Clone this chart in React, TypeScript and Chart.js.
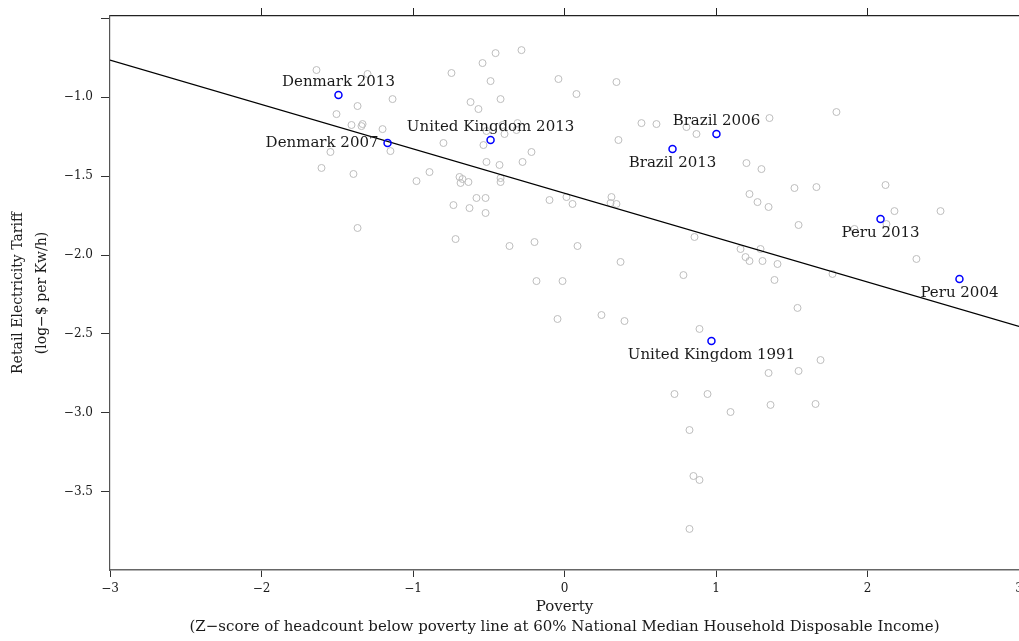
import React, { useEffect, useRef } from "react";
import { Chart, registerables } from "chart.js";

Chart.register(...registerables);

// ---- data ----
const grayX: number[] = [
  -1.637, -1.3, -1.135, -1.366, -1.505, -1.406, -1.34, -1.333, -1.201, -1.545,
  -1.149, -1.604, -1.393, -1.366, -0.455, -0.284, -0.541, -0.746, -0.488, -0.04,
  0.343, -0.62, -0.422, -0.568, 0.079, -0.409, -0.31, -0.396, -0.317, -0.515,
  -0.799, -0.535, -0.218, -0.515, -0.429, -0.277, -0.891, -0.977, -0.693, -0.673,
  -0.686, -0.634, -0.422, -0.422, 0.356, 0.508, 0.607, -0.581, -0.521, -0.099,
  0.013, 0.31, 0.805, 1.353, 1.795, 0.871, 1.201, 1.3, 1.518, 1.663,
  2.119, 1.221, 1.274, 1.347, 1.545, 2.178, 2.482, 2.125, 1.914, 0.858,
  1.162, 1.294, 1.195, 1.221, 1.307, 1.406, 2.323, 0.053, 0.304, 0.343,
  0.086, 0.37, 0.785, 1.386, 1.769, -0.013, 1.538, 0.244, 0.396, -0.046,
  0.891, 1.69, 1.347, 1.545, 0.726, 0.944, 1.096, 1.36, 1.657, 0.825,
  0.851, 0.891, 0.825, -0.733, -0.627, -0.521, -0.719, -0.363, -0.198, -0.185,
];
const grayY: number[] = [
  -0.829, -0.854, -1.013, -1.057, -1.108, -1.177, -1.184, -1.171, -1.203, -1.348,
  -1.342, -1.449, -1.487, -1.829, -0.722, -0.703, -0.785, -0.848, -0.899, -0.886,
  -0.905, -1.032, -1.013, -1.076, -0.981, -1.177, -1.165, -1.234, -1.209, -1.215,
  -1.291, -1.304, -1.348, -1.411, -1.43, -1.411, -1.475, -1.532, -1.506, -1.519,
  -1.544, -1.538, -1.513, -1.538, -1.272, -1.165, -1.171, -1.639, -1.639, -1.652,
  -1.633, -1.633, -1.19, -1.133, -1.095, -1.234, -1.418, -1.456, -1.576, -1.57,
  -1.557, -1.614, -1.665, -1.696, -1.81, -1.722, -1.722, -1.804, -1.835, -1.886,
  -1.962, -1.962, -2.013, -2.038, -2.038, -2.057, -2.025, -1.677, -1.671, -1.677,
  -1.943, -2.044, -2.127, -2.158, -2.12, -2.165, -2.335, -2.38, -2.418, -2.405,
  -2.468, -2.665, -2.747, -2.734, -2.88, -2.88, -2.994, -2.949, -2.943, -3.108,
  -3.399, -3.424, -3.734, -1.684, -1.703, -1.734, -1.899, -1.943, -1.918, -2.165,
];

const highlightLabels: string[] = [
  "Denmark 2013", "Denmark 2007", "United Kingdom 2013", "Brazil 2006",
  "Brazil 2013", "Peru 2013", "Peru 2004", "United Kingdom 1991",
];
const highlightX: number[] = [-1.492, -1.168, -0.488, 1.003, 0.713, 2.086, 2.607, 0.97];
const highlightY: number[] = [-0.987, -1.291, -1.272, -1.234, -1.329, -1.772, -2.152, -2.544];

const fitX: number[] = [-3, 3];
const fitY: number[] = [-0.766, -2.452];

const xTicks: number[] = [-3, -2, -1, 0, 1, 2, 3];
const topTicks: number[] = [-2, -1, 0, 1, 2];
const yTicks: number[] = [-3.5, -3.0, -2.5, -2.0, -1.5, -1.0, -0.5];

const xTitle: string[] = [
  "Poverty",
  "(Z\u2212score of headcount below poverty line at 60% National Median Household Disposable Income)",
];
const yTitle: string[] = ["Retail Electricity Tariff", "(log\u2212$ per Kw/h)"];

// ---- style ----
const FONT = '"DejaVu Serif", serif';
const labelPlacement: string[] = ["above", "left", "above", "above", "below", "below", "below", "below"];

const minus = (s: string) => s.replace("-", "\u2212");

const labelPlugin = {
  id: "pointLabels",
  afterDatasetsDraw(chart: any) {
    const { ctx, scales } = chart;
    ctx.save();
    ctx.font = `15px ${FONT}`;
    ctx.fillStyle = "#1a1a1a";
    ctx.textBaseline = "middle";
    highlightLabels.forEach((t, i) => {
      const px = scales.x.getPixelForValue(highlightX[i]);
      const py = scales.y.getPixelForValue(highlightY[i]);
      const p = labelPlacement[i];
      if (p === "left") {
        ctx.textAlign = "right";
        ctx.fillText(t, px - 9, py);
      } else if (p === "above") {
        ctx.textAlign = "center";
        ctx.fillText(t, px, py - 13);
      } else {
        ctx.textAlign = "center";
        ctx.fillText(t, px, py + 14);
      }
    });
    ctx.restore();
  },
};

export default function App() {
  const ref = useRef<HTMLCanvasElement | null>(null);

  useEffect(() => {
    if (!ref.current) return;
    Chart.defaults.color = "#1a1a1a";
    const chart = new Chart(ref.current, {
      type: "scatter",
      data: {
        datasets: [
          {
            data: grayX.map((x, i) => ({ x, y: grayY[i] })),
            pointRadius: 3.5,
            pointBorderWidth: 1,
            pointBorderColor: "#bdbdbd",
            pointBackgroundColor: "rgba(0,0,0,0)",
            xAxisID: "x",
            yAxisID: "y",
            order: 3,
          },
          {
            data: fitX.map((x, i) => ({ x, y: fitY[i] })),
            showLine: true,
            borderColor: "#000",
            borderWidth: 1.1,
            pointRadius: 0,
            xAxisID: "x",
            yAxisID: "y",
            order: 2,
          },
          {
            data: highlightX.map((x, i) => ({ x, y: highlightY[i] })),
            pointRadius: 3.5,
            pointBorderWidth: 1.5,
            pointBorderColor: "#0000ff",
            pointBackgroundColor: "rgba(0,0,0,0)",
            xAxisID: "x",
            yAxisID: "y",
            order: 1,
          },
        ],
      },
      options: {
        animation: false,
        responsive: false,
        devicePixelRatio: 1,
        layout: { padding: { left: 0, top: 0, right: 11, bottom: 0 } },
        plugins: { legend: { display: false }, tooltip: { enabled: false } },
        scales: {
          x: {
            type: "linear",
            position: "bottom",
            min: -3,
            max: 3,
            afterBuildTicks: (s: any) => {
              s.ticks = xTicks.map((v) => ({ value: v }));
            },
            afterFit: (s: any) => {
              s.height = 71;
            },
            ticks: {
              callback: (v: any) => minus(String(v)),
              font: { family: FONT, size: 12 },
              color: "#1a1a1a",
              padding: 5,
              maxRotation: 0,
              autoSkip: false,
            },
            grid: { drawOnChartArea: false, drawTicks: true, tickLength: 7, color: "#333" },
            border: { display: true, color: "#666", width: 1.5 },
            title: {
              display: true,
              text: xTitle,
              font: { family: FONT, size: 15, lineHeight: "20px" },
              color: "#1a1a1a",
              padding: { top: 0, bottom: 4 },
            },
          },
          x2: {
            type: "linear",
            axis: "x",
            position: "top",
            min: -3,
            max: 3,
            afterBuildTicks: (s: any) => {
              s.ticks = topTicks.map((v) => ({ value: v }));
            },
            afterFit: (s: any) => {
              s.height = 16;
            },
            ticks: { display: false },
            grid: { drawOnChartArea: false, drawTicks: true, tickLength: 8, color: "#222" },
            border: { display: true, color: "#222", width: 1.2 },
          },
          y: {
            type: "linear",
            position: "left",
            min: -3.994,
            max: -0.487,
            afterBuildTicks: (s: any) => {
              s.ticks = yTicks.map((v) => ({ value: v }));
            },
            afterFit: (s: any) => {
              s.width = 110;
            },
            ticks: {
              callback: (v: any) => (Math.abs(v + 0.5) < 1e-9 ? "" : minus(Number(v).toFixed(1))),
              font: { family: FONT, size: 12 },
              color: "#1a1a1a",
              padding: 8,
              autoSkip: false,
            },
            grid: { drawOnChartArea: false, drawTicks: true, tickLength: 9, color: "#333" },
            border: { display: true, color: "#555", width: 1.2 },
            title: {
              display: true,
              text: yTitle,
              font: { family: FONT, size: 14, lineHeight: "24px" },
              color: "#1a1a1a",
              padding: { top: 6, bottom: 0 },
            },
          },
        },
      },
      plugins: [labelPlugin],
    } as any);
    return () => chart.destroy();
  }, []);

  return (
    <div
      style={{
        position: "fixed",
        left: 0,
        top: 0,
        width: 1019,
        height: 641,
        overflow: "hidden",
        background: "#fff",
      }}
    >
      <canvas ref={ref} width={1030} height={641} style={{ display: "block", width: 1030, height: 641 }} />
    </div>
  );
}
